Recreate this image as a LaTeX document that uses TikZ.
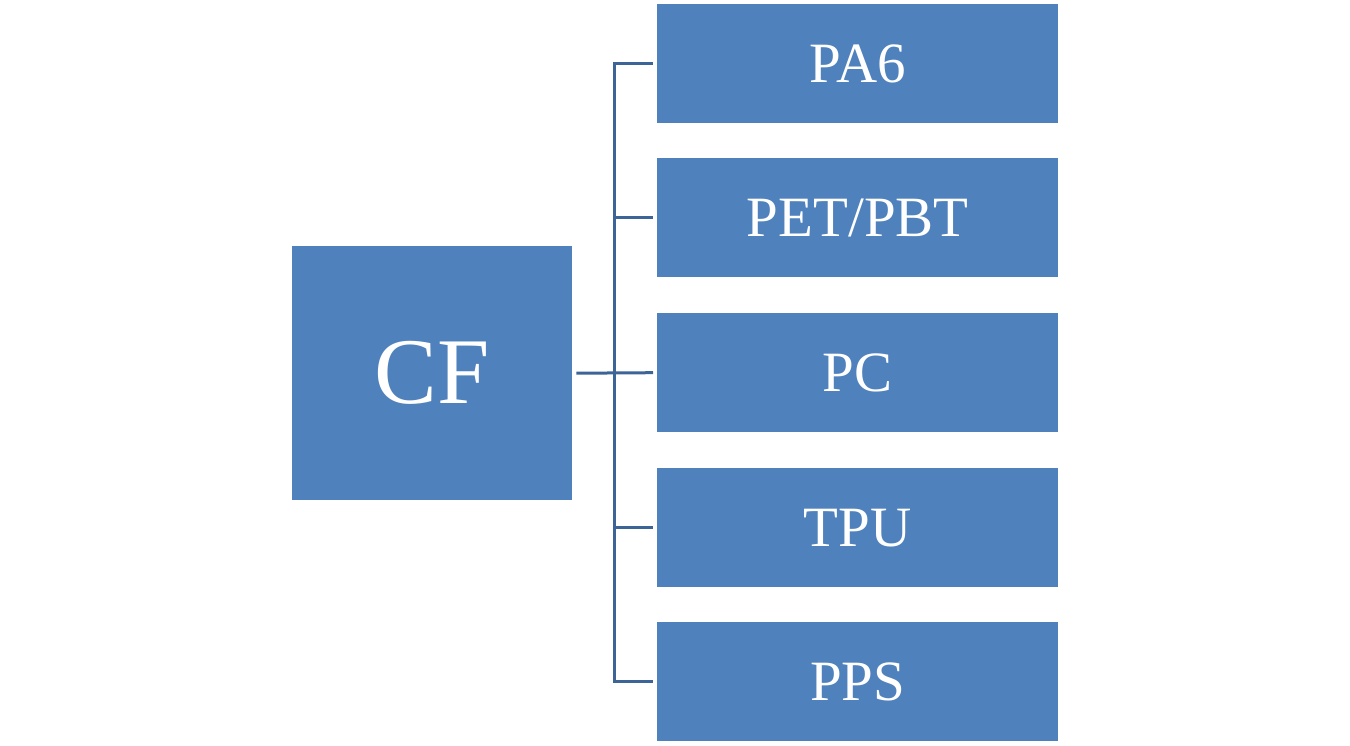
\documentclass[tikz,border=0pt]{standalone}
\usepackage{fontspec}
\setmainfont{Liberation Serif}
\definecolor{boxblue}{HTML}{4F81BD}
\definecolor{lineblue}{HTML}{3C6496}
\begin{document}
\begin{tikzpicture}[x=1pt,y=-1pt,
  box/.style={fill=boxblue,draw=none,text=white,inner sep=0pt,anchor=north west},
  conn/.style={draw=lineblue,line width=3pt}]
\useasboundingbox (0,0) rectangle (1350,746);
\node[box,minimum width=280pt,minimum height=254pt,font=\fontsize{94}{100}\selectfont] (cf) at (292,246) {CF};
\foreach \n/\t/\y in {pa/PA6/4, pet/PET\slash PBT/158, pc/PC/313, tpu/TPU/468, pps/PPS/622}{
  \node[box,minimum width=401pt,minimum height=119pt,font=\fontsize{57}{60}\selectfont] (\n) at (657,\y) {\t};
}
\coordinate (j) at (614,372);
\draw[conn] ([xshift=4pt]cf.east) -- ([xshift=-4pt]pc.west);
\draw[conn] ([xshift=-4pt]pa.west) -| (j |- pps.west) -- ([xshift=-4pt]pps.west);
\draw[conn] ([xshift=-4pt]pet.west) -- (j |- pet.west);
\draw[conn] ([xshift=-4pt]tpu.west) -- (j |- tpu.west);
\end{tikzpicture}
\end{document}
